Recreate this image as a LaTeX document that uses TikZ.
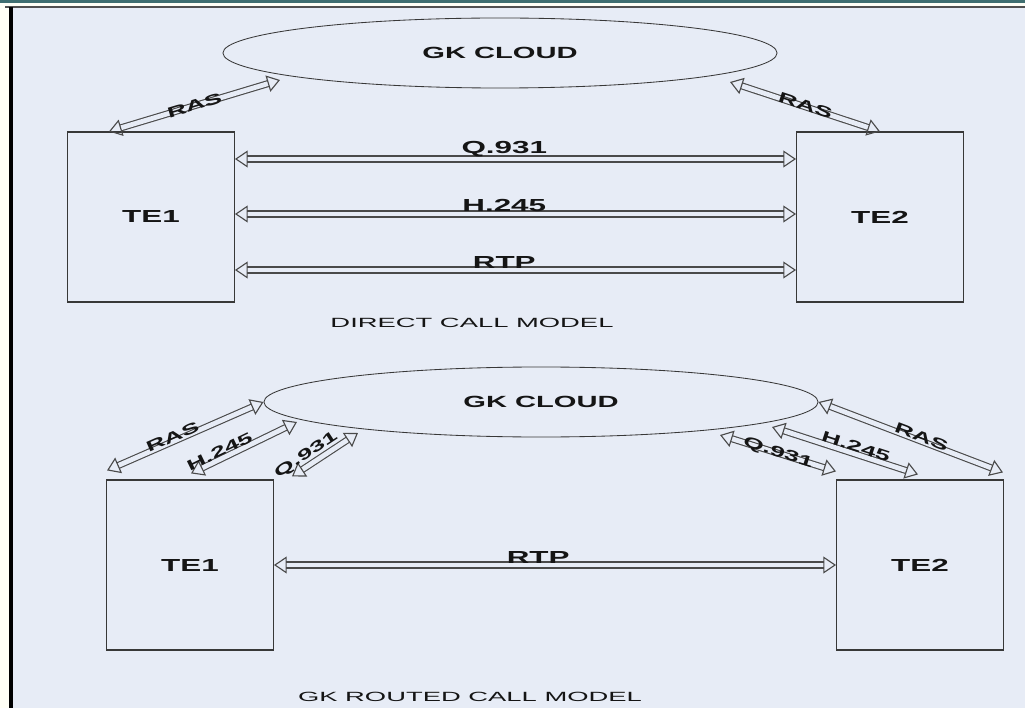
\documentclass[tikz,border=0pt]{standalone}
\usepackage{fontspec}
\usepackage{graphicx}
\usepackage{xcolor}
\usepackage{tikz}
\usetikzlibrary{arrows.meta,positioning,calc,shapes.geometric}
\setsansfont{Liberation Sans}
\definecolor{paper}{HTML}{E7ECF6}
\definecolor{margin}{HTML}{FFFFF6}
\definecolor{bar}{HTML}{3F6E70}
\definecolor{ink}{HTML}{151515}
\definecolor{wire}{HTML}{4A4A4A}
\newcommand{\wide}[2][1.8]{\scalebox{#1}[1]{#2}}

\begin{document}
\begin{tikzpicture}[x=0.025cm, y=-0.025cm,
  cloud/.style={draw=ink!85, ellipse, line width=0.6pt, minimum width=13.85cm,
    minimum height=1.75cm, inner sep=0pt, text=ink,
    font=\sffamily\bfseries\fontsize{11.5}{13}\selectfont},
  term/.style={draw=ink!85, line width=0.8pt, minimum width=4.17cm,
    minimum height=4.25cm, inner sep=0pt, text=ink,
    font=\sffamily\bfseries\fontsize{12.4}{14}\selectfont},
  link/.style={draw=wire, line width=0.8pt, double=paper, double distance=3.4pt,
    {Triangle[open,length=9pt,width=12pt]}-{Triangle[open,length=9pt,width=12pt]}},
  tag/.style={font=\sffamily\bfseries\fontsize{12.4}{14}\selectfont, inner sep=1pt, text=ink},
  slant/.style={font=\sffamily\bfseries\fontsize{10.5}{12}\selectfont, inner sep=0pt,
    sloped, text=ink},
  caption/.style={font=\sffamily\fontsize{9.5}{11}\selectfont, text=ink}
]
\useasboundingbox (0,0) rectangle (1025,708);
% page frame
\fill[margin] (0,0) rectangle (1025,708);
\fill[paper] (11,7) rectangle (1025,708);
\fill[bar] (0,0) rectangle (1025,3.5);
\draw[ink!75, line width=1.2pt] (5,7) -- (1025,7);
\draw[black, line width=2.2pt] (11,7) -- (11,708);

% direct call model
\node[cloud] (gk) at (500,53) {\wide{GK CLOUD}};
\node[term] (te1) at (151,217) {\wide{TE1}};
\node[term] (te2) at (880,217) {\wide{TE2}};
\coordinate (gkl) at (280,80);
\coordinate (gkr) at (730,82);
\draw[link] ($(te1.north west)!.25!(te1.north east)$) -- node[slant, above=-4pt] {\wide{RAS}} (gkl);
\draw[link] (gkr) -- node[slant, above=-3pt] {\wide{RAS}} (te2.north);
\draw[link] ($(te1.east)+(0,-58)$) -- node[tag, above, pos=.48] {\wide{Q.931}} ($(te2.west)+(0,-58)$);
\draw[link] ($(te1.east)+(0,-3)$) -- node[tag, above, pos=.48] {\wide{H.245}} ($(te2.west)+(0,-3)$);
\draw[link] ($(te1.east)+(0,53)$) -- node[tag, above, pos=.48] {\wide{RTP}} ($(te2.west)+(0,53)$);
\node[caption] (direct) at (472,323) {\wide[2.05]{DIRECT CALL MODEL}};

% gk routed call model
\node[cloud] (gkb) at (541,402) {\wide{GK CLOUD}};
\node[term] (te1b) at (190,565) {\wide{TE1}};
\node[term] (te2b) at (920,565) {\wide{TE2}};
\coordinate (gkb1) at (297,422);
\coordinate (gkb2) at (358,433);
\coordinate (gkb3) at (772,427);
\coordinate (gkb4) at (720,435);
\draw[link] ($(te1b.north west)+(1,-9)$) -- node[slant, above=-1pt, pos=.43] {\wide{RAS}} (gkb.west);
\draw[link] ($(te1b.north)+(1,-6)$) -- node[slant, above=1pt, pos=.3] {\wide{H.245}} (gkb1);
\draw[link] ($(te1b.north east)+(18,-3)$) -- node[slant, above=2pt, pos=.3] {\wide{Q.931}} (gkb2);
\draw[link] (gkb.east) -- node[slant, above=-1pt, pos=.55] {\wide{RAS}} ($(te2b.north east)+(-1,-7)$);
\draw[link] (gkb3) -- node[slant, above=1pt, pos=.56] {\wide{H.245}} ($(te2b.north)+(-2,-5)$);
\draw[link] (gkb4) -- node[slant, above=-5pt, pos=.5] {\wide{Q.931}} ($(te2b.north west)+(0,-8)$);
\draw[link] (te1b.east) -- node[tag, above, pos=.47] {\wide{RTP}} (te2b.west);
\node[caption] (routed) at (470,697) {\wide[2.05]{GK ROUTED CALL MODEL}};
\end{tikzpicture}
\end{document}
